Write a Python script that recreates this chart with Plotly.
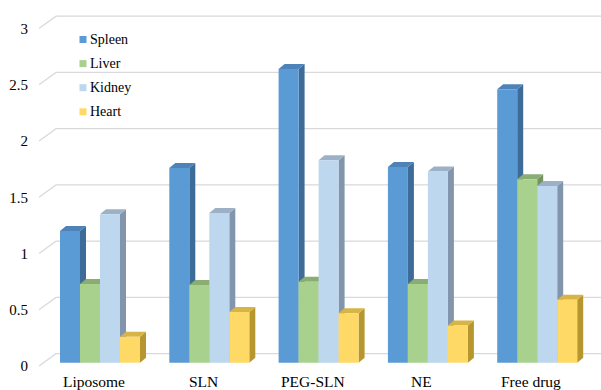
import plotly.graph_objects as go

# ---- data -------------------------------------------------------------
categories = ["Liposome", "SLN", "PEG-SLN", "NE", "Free drug"]
series_names = ["Spleen", "Liver", "Kidney", "Heart"]
spleen = [1.17, 1.73, 2.61, 1.74, 2.43]
liver = [0.70, 0.69, 0.72, 0.70, 1.63]
kidney = [1.32, 1.33, 1.80, 1.70, 1.57]
heart = [0.23, 0.45, 0.44, 0.33, 0.56]
y_ticks = [0, 0.5, 1, 1.5, 2, 2.5, 3]
y_tick_labels = ["0", "0.5", "1", "1.5", "2", "2.5", "3"]

series_values = [spleen, liver, kidney, heart]

# ---- styling (front face, right side face, top face) ------------------
front_colors = ["#5B9BD5", "#A9D18E", "#BDD7EE", "#FFD966"]
side_colors = ["#3D6C98", "#75935F", "#8395AC", "#B6972F"]
top_colors = ["#4D83B9", "#8AAD73", "#9CB0C6", "#D6B445"]
grid_color = "#D9D9D9"
FONT = "Liberation Serif"

# ---- pixel geometry of the oblique (pseudo-3D) view ---------------------
W, H = 601, 390
PX_X = 109.3          # pixels per category step
PX_Y = 112.5          # pixels per value unit
X0_PX = 100.0         # centre of first category (bar front plane)
Y0_PX = 362.7         # value 0 on the bar front plane
LEFT = 39             # left edge of plot area (front floor edge)


def dx(px):
    return px / PX_X


def dy(px):
    return px / PX_Y


def to_x(px):
    return (px - X0_PX) / PX_X


def to_y(py):
    return (Y0_PX - py) / PX_Y


x_range = [to_x(LEFT), to_x(W)]
y_range = [to_y(H), to_y(0)]

bar_w = dx(20)                    # width of one column
depth_x, depth_y = dx(6), dy(5)   # column depth projection
front_dy = dy(-3.3)               # floor front edge relative to bar base
wall_dy = dy(9.0)                 # back wall relative to bar base
wall_x = to_x(56)                 # left edge of back wall

shapes = []

# back-wall gridlines with their floor/side diagonal
for v in y_ticks:
    shapes.append(dict(
        type="path", xref="x", yref="y", layer="below",
        path=(f"M {x_range[0]},{v + front_dy} L {wall_x},{v + wall_dy} "
              f"L {x_range[1]},{v + wall_dy}"),
        line=dict(color=grid_color, width=1.2),
    ))

bar_x = []
for k in range(len(series_names)):
    bar_x.append([i + (k - 1.5) * bar_w for i in range(len(categories))])

# right-hand side faces
for k, vals in enumerate(series_values):
    for xc, v in zip(bar_x[k], vals):
        xr = xc + bar_w / 2
        shapes.append(dict(
            type="path", xref="x", yref="y", layer="below",
            path=(f"M {xr},0 L {xr},{v} L {xr + depth_x},{v + depth_y} "
                  f"L {xr + depth_x},{depth_y} Z"),
            fillcolor=side_colors[k], line=dict(width=0),
        ))

# top faces
for k, vals in enumerate(series_values):
    for xc, v in zip(bar_x[k], vals):
        xl, xr = xc - bar_w / 2, xc + bar_w / 2
        shapes.append(dict(
            type="path", xref="x", yref="y", layer="below",
            path=(f"M {xl},{v} L {xr},{v} L {xr + depth_x},{v + depth_y} "
                  f"L {xl + depth_x},{v + depth_y} Z"),
            fillcolor=top_colors[k], line=dict(width=0),
        ))

fig = go.Figure()

# front faces of the columns
for k, vals in enumerate(series_values):
    fig.add_trace(go.Bar(
        x=bar_x[k], y=vals, base=0, width=bar_w,
        name=series_names[k],
        marker=dict(color=front_colors[k], line=dict(width=0)),
        showlegend=False,
        hovertemplate="%{y}<extra>" + series_names[k] + "</extra>",
    ))

annotations = []

# category labels on the front floor edge
for i, name in enumerate(categories):
    annotations.append(dict(
        x=i + dx(-6), y=to_y(381.5), xref="x", yref="y",
        text=name, showarrow=False, xanchor="center", yanchor="middle",
        font=dict(family=FONT, size=15.5, color="#000000"),
    ))

# legend: small squares with labels
for k, name in enumerate(series_names):
    cy = 39.5 + 24.1 * k
    shapes.append(dict(
        type="rect", xref="x", yref="y", layer="above",
        x0=to_x(79.5), x1=to_x(86.5), y0=to_y(cy - 3.5), y1=to_y(cy + 3.5),
        fillcolor=front_colors[k], line=dict(width=0),
    ))
    annotations.append(dict(
        x=to_x(88), y=to_y(cy), xref="x", yref="y",
        text=name, showarrow=False, xanchor="left", yanchor="middle",
        font=dict(family=FONT, size=14, color="#000000"),
    ))

fig.update_layout(
    width=W, height=H,
    margin=dict(l=LEFT, r=0, t=0, b=0, autoexpand=False),
    paper_bgcolor="white", plot_bgcolor="white",
    barmode="overlay",
    showlegend=False,
    font=dict(family=FONT),
    shapes=shapes,
    annotations=annotations,
    xaxis=dict(range=x_range, showgrid=False, zeroline=False,
               showticklabels=False, showline=False, fixedrange=True),
    yaxis=dict(range=y_range, showgrid=False, zeroline=False, showline=False,
               tickvals=[v + front_dy for v in y_ticks],
               ticktext=y_tick_labels, ticks="",
               ticklabelstandoff=10, automargin=False,
               tickfont=dict(family=FONT, size=15, color="#000000"),
               fixedrange=True),
)

fig.write_html("out.html")
